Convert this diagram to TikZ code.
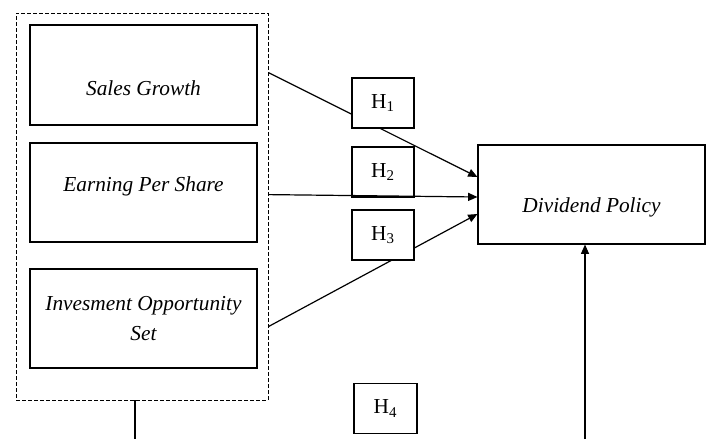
\documentclass[tikz,border=0pt]{standalone}
\usepackage{fontspec}
\setmainfont{Liberation Serif}
\usepackage{tikz}
\usetikzlibrary{arrows.meta,positioning,calc}

\tikzset{
  varbox/.style={draw, line width=0.8pt, fill=white, minimum width=170.25pt,
    align=center, font=\fontsize{16}{22}\selectfont\itshape},
  hbox/.style={draw, line width=0.8pt, fill=white, minimum width=46.5pt,
    minimum height=37.5pt, font=\fontsize{16}{19}\selectfont},
  groupbox/.style={draw, line width=0.6pt, dash pattern=on 3pt off 1.5pt,
    minimum width=189pt, minimum height=290.25pt},
  link/.style={line width=0.9pt, -{Triangle[length=7pt,width=6pt]}}
}

\begin{document}
\begin{tikzpicture}[x=0.75pt,y=-0.75pt]
    \useasboundingbox (0,0) rectangle (710,439);

    \node[groupbox] (grp) at (142,206.5) {};

    \node[varbox, minimum height=75pt] (sg) at (143.5,75) {\raisebox{-15pt}[0pt][0pt]{Sales Growth}};
    \node[varbox, minimum height=74.25pt] (eps) at (143.5,192.5) {\raisebox{0.5pt}[0pt][0pt]{Earning Per Share}};
    \node[varbox, minimum height=74.25pt] (ios) at (143.5,318.5) {Invesment Opportunity\\Set};

    \node[varbox, minimum height=74.25pt] (div) at (591.5,194.5) {\raisebox{-13.5pt}[0pt][0pt]{Dividend Policy}};

    \coordinate (b1) at (135,439);
    \coordinate (b2) at (585,439);

    % hypothesis paths, boxes H1 and H3 sit on top of them
    \draw[link] ($(grp.north east)+(0,60)$) -- ($(div.west)+(0,-17.5)$);
    \draw[link] ($(grp.north east)+(0,314)$) -- ($(div.west)+(0,19.5)$);

    \node[hbox] (h1) at (383,103) {H\textsubscript{1}};
    \node[hbox] (h2) at (383,172) {H\textsubscript{2}};
    \node[hbox] (h3) at (383,235) {H\textsubscript{3}};
    \node[hbox, minimum width=47.25pt] (h4) at (385.5,408.5) {H\textsubscript{4}};

    \draw[link] ($(grp.north east)+(0,182)$) -- ($(div.west)+(0,2.5)$);

    \draw[line width=0.9pt] (grp.south -| b1) -- (b1);
    \draw[link] (b2) -- (div.south -| b2);
\end{tikzpicture}
\end{document}
